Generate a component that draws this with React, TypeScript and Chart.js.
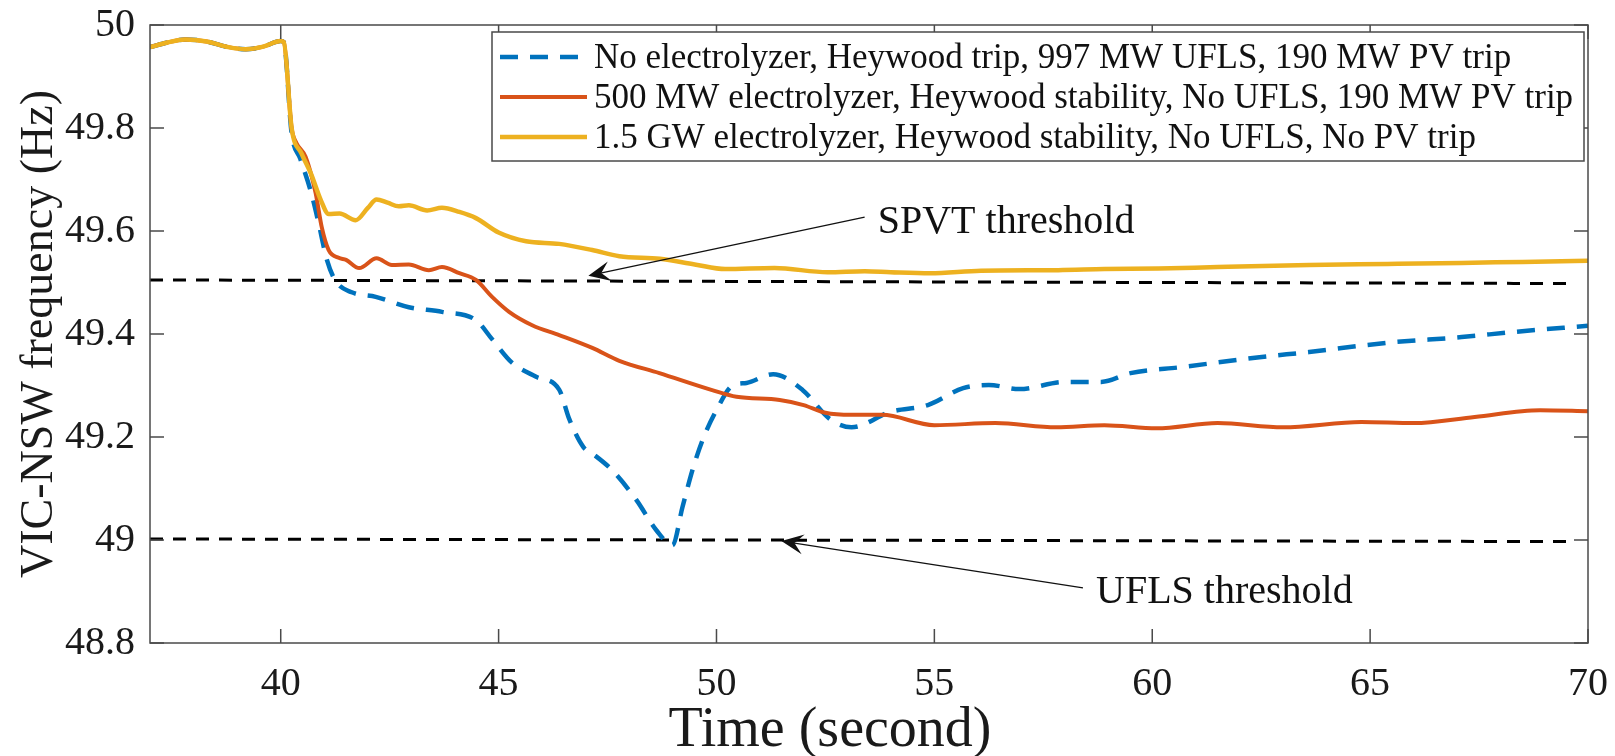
import React, { useEffect, useRef } from 'react';
import { Chart, registerables } from 'chart.js';

Chart.register(...registerables);

// ---------- data ----------
const preTime = [37, 37.4, 37.8, 38.3, 38.8, 39.2, 39.6, 40.0];
const preFreq = [49.957, 49.966, 49.972, 49.968, 49.957, 49.953, 49.958, 49.969];

const blueTime = [40.07, 40.25, 40.45, 40.7, 40.87, 41.06, 41.26, 41.63, 42.18, 42.94, 43.7, 44.48, 44.85, 45.3, 45.86, 46.39, 46.62, 46.95, 47.15, 47.6, 48.16, 48.62, 48.99, 49.22, 49.45, 49.68, 50.0, 50.37, 50.69, 51.3, 51.98, 52.6, 53.1, 54.0, 54.85, 55.66, 56.25, 56.95, 58.0, 58.83, 59.5, 60.7, 62.46, 63.6, 65.4, 67.1, 68.3, 70];
const blueFreq = [49.967, 49.79, 49.74, 49.674, 49.615, 49.544, 49.503, 49.481, 49.472, 49.452, 49.443, 49.427, 49.39, 49.345, 49.317, 49.292, 49.235, 49.18, 49.168, 49.136, 49.078, 49.019, 48.99, 49.064, 49.136, 49.194, 49.252, 49.3, 49.305, 49.322, 49.291, 49.235, 49.219, 49.249, 49.262, 49.295, 49.301, 49.293, 49.307, 49.307, 49.324, 49.336, 49.355, 49.365, 49.383, 49.394, 49.404, 49.416];

const orangeTime = [40.07, 40.25, 40.36, 40.57, 40.8, 40.94, 41.1, 41.33, 41.5, 41.8, 42.2, 42.55, 42.94, 43.4, 43.7, 44.1, 44.48, 44.85, 45.24, 45.77, 46.39, 47.15, 47.77, 48.69, 49.9, 50.46, 51.45, 52.0, 52.5, 53.1, 53.8, 55.0, 56.4, 57.8, 58.9, 60.1, 61.5, 63.0, 64.8, 66.0, 67.4, 68.9, 70];
const orangeFreq = [49.967, 49.8, 49.771, 49.744, 49.674, 49.608, 49.563, 49.548, 49.544, 49.528, 49.547, 49.534, 49.535, 49.524, 49.53, 49.518, 49.505, 49.472, 49.443, 49.417, 49.398, 49.373, 49.348, 49.324, 49.291, 49.278, 49.272, 49.262, 49.247, 49.243, 49.243, 49.223, 49.227, 49.219, 49.223, 49.217, 49.227, 49.219, 49.229, 49.227, 49.239, 49.252, 49.25];

const yellowTime = [40.07, 40.25, 40.48, 40.7, 40.92, 41.1, 41.35, 41.72, 42.0, 42.2, 42.45, 42.71, 42.94, 43.36, 43.7, 44.1, 44.48, 45.0, 45.63, 46.39, 47.15, 47.77, 48.7, 49.5, 50.2, 51.33, 52.55, 53.4, 54.0, 54.9, 56.07, 57.84, 58.9, 60.14, 61.5, 63.6, 65.4, 67.1, 68.5, 70];
const yellowFreq = [49.967, 49.8, 49.75, 49.71, 49.66, 49.633, 49.634, 49.621, 49.645, 49.661, 49.655, 49.648, 49.65, 49.64, 49.645, 49.637, 49.625, 49.597, 49.58, 49.575, 49.563, 49.551, 49.546, 49.535, 49.526, 49.528, 49.52, 49.522, 49.52, 49.518, 49.523, 49.524, 49.526, 49.527, 49.53, 49.534, 49.536, 49.538, 49.54, 49.542];

const spvtTime = [37, 69.6];
const spvtFreq = [49.505, 49.498];
const uflsTime = [37, 69.5];
const uflsFreq = [49.002, 48.997];

const seriesLabels = [
  'No electrolyzer, Heywood trip, 997 MW UFLS, 190 MW PV trip',
  '500 MW electrolyzer, Heywood stability, No UFLS, 190 MW PV trip',
  '1.5 GW electrolyzer, Heywood stability, No UFLS, No PV trip',
];
const seriesColors = ['#0072BD', '#D95319', '#EDB120'];

const xTicks = [40, 45, 50, 55, 60, 65, 70];
const yTicks = [48.8, 49, 49.2, 49.4, 49.6, 49.8, 50];

const xTitle = 'Time (second)';
const yTitle = 'VIC-NSW frequency (Hz)';

const annotTexts = ['SPVT threshold', 'UFLS threshold'];
const annotTextTime = [53.7, 58.71];
const annotTextFreq = [49.596, 48.878];
const arrowTailTime = [53.4, 58.41];
const arrowTailFreq = [49.627, 48.907];
const arrowTipTime = [47.06, 51.49];
const arrowTipFreq = [49.513, 48.998];

const FONT = '"Liberation Serif", "Times New Roman", serif';

const toPts = (t: number[], f: number[]) => t.map((v, i) => ({ x: v, y: f[i] }));

const framePlugin = {
  id: 'frame',
  afterDatasetsDraw(chart: any) {
    const { ctx, chartArea: a, scales } = chart;
    ctx.save();
    ctx.strokeStyle = '#4a4a4a';
    ctx.lineWidth = 1.5;
    ctx.strokeRect(a.left, a.top, a.right - a.left, a.bottom - a.top);
    const tl = 14;
    ctx.beginPath();
    xTicks.forEach((v) => {
      const px = scales.x.getPixelForValue(v);
      ctx.moveTo(px, a.bottom);
      ctx.lineTo(px, a.bottom - tl);
      ctx.moveTo(px, a.top);
      ctx.lineTo(px, a.top + tl);
    });
    yTicks.forEach((v) => {
      const py = scales.y.getPixelForValue(v);
      ctx.moveTo(a.left, py);
      ctx.lineTo(a.left + tl, py);
      ctx.moveTo(a.right, py);
      ctx.lineTo(a.right - tl, py);
    });
    ctx.stroke();

    // annotations
    ctx.fillStyle = '#111';
    ctx.strokeStyle = '#111';
    ctx.font = `40px ${FONT}`;
    ctx.textBaseline = 'alphabetic';
    ctx.textAlign = 'left';
    annotTexts.forEach((txt, i) => {
      const tx = scales.x.getPixelForValue(annotTextTime[i]);
      const ty = scales.y.getPixelForValue(annotTextFreq[i]);
      ctx.fillText(txt, tx, ty);
      const x0 = scales.x.getPixelForValue(arrowTailTime[i]);
      const y0 = scales.y.getPixelForValue(arrowTailFreq[i]);
      const x1 = scales.x.getPixelForValue(arrowTipTime[i]);
      const y1 = scales.y.getPixelForValue(arrowTipFreq[i]);
      const ang = Math.atan2(y1 - y0, x1 - x0);
      ctx.lineWidth = 1.3;
      ctx.beginPath();
      ctx.moveTo(x0, y0);
      ctx.lineTo(x1 - Math.cos(ang) * 10, y1 - Math.sin(ang) * 10);
      ctx.stroke();
      const L = 22, W = 10;
      const bx = x1 - Math.cos(ang) * L, by = y1 - Math.sin(ang) * L;
      const nx = -Math.sin(ang), ny = Math.cos(ang);
      const mx = x1 - Math.cos(ang) * L * 0.6, my = y1 - Math.sin(ang) * L * 0.6;
      ctx.beginPath();
      ctx.moveTo(x1, y1);
      ctx.lineTo(bx + nx * W, by + ny * W);
      ctx.lineTo(mx, my);
      ctx.lineTo(bx - nx * W, by - ny * W);
      ctx.closePath();
      ctx.fill();
    });
    ctx.restore();
  },
  afterDraw(chart: any) {
    const { ctx, chartArea: a } = chart;
    ctx.save();
    // axis titles
    ctx.fillStyle = '#1a1a1a';
    ctx.font = `56px ${FONT}`;
    ctx.textAlign = 'center';
    ctx.textBaseline = 'alphabetic';
    ctx.fillText(xTitle, (a.left + a.right) / 2 - 39, 746);
    ctx.save();
    ctx.translate(52, (a.top + a.bottom) / 2);
    ctx.rotate(-Math.PI / 2);
    ctx.font = `46px ${FONT}`;
    ctx.fillText(yTitle, 0, 0);
    ctx.restore();

    // legend box
    const right = a.right - 4;
    const left = right - 1092;
    const top = a.top + 7;
    const h = 129;
    ctx.fillStyle = '#fff';
    ctx.fillRect(left, top, right - left, h);
    ctx.strokeStyle = '#4a4a4a';
    ctx.lineWidth = 1.5;
    ctx.strokeRect(left, top, right - left, h);
    ctx.font = `35px ${FONT}`;
    ctx.textBaseline = 'middle';
    ctx.textAlign = 'left';
    for (let i = 0; i < 3; i++) {
      const ds = chart.data.datasets[i];
      const cy = top + 25 + i * 40;
      ctx.strokeStyle = ds.borderColor;
      ctx.lineWidth = ds.borderWidth;
      ctx.setLineDash(ds.borderDash || []);
      ctx.beginPath();
      ctx.moveTo(left + 8, cy);
      ctx.lineTo(left + 95, cy);
      ctx.stroke();
      ctx.setLineDash([]);
      ctx.fillStyle = '#111';
      ctx.fillText(ds.label, left + 102, cy + 2);
    }
    ctx.restore();
  },
};

const bgPlugin = {
  id: 'bg',
  beforeDraw(chart: any) {
    const { ctx, width, height } = chart;
    ctx.save();
    ctx.fillStyle = '#fff';
    ctx.fillRect(0, 0, width, height);
    ctx.restore();
  },
};

export default function App() {
  const ref = useRef<HTMLCanvasElement | null>(null);
  useEffect(() => {
    if (!ref.current) return;
    const lineBase = {
      pointRadius: 0,
      fill: false,
      cubicInterpolationMode: 'monotone' as const,
    };
    const chart = new Chart(ref.current, {
      type: 'line',
      data: {
        datasets: [
          {
            ...lineBase,
            label: seriesLabels[0],
            data: toPts([...preTime, ...blueTime], [...preFreq, ...blueFreq]),
            borderColor: seriesColors[0],
            borderWidth: 4.5,
            borderDash: [18, 12],
            order: 2,
          },
          {
            ...lineBase,
            label: seriesLabels[1],
            data: toPts([...preTime, ...orangeTime], [...preFreq, ...orangeFreq]),
            borderColor: seriesColors[1],
            borderWidth: 4,
            order: 1,
          },
          {
            ...lineBase,
            label: seriesLabels[2],
            data: toPts([...preTime, ...yellowTime], [...preFreq, ...yellowFreq]),
            borderColor: seriesColors[2],
            borderWidth: 4.5,
            order: 0,
          },
          {
            ...lineBase,
            label: 'SPVT',
            data: toPts(spvtTime, spvtFreq),
            borderColor: '#000',
            borderWidth: 3,
            borderDash: [13, 10],
            order: 3,
          },
          {
            ...lineBase,
            label: 'UFLS',
            data: toPts(uflsTime, uflsFreq),
            borderColor: '#000',
            borderWidth: 3,
            borderDash: [13, 10],
            order: 3,
          },
        ],
      },
      options: {
        animation: false,
        responsive: false,
        maintainAspectRatio: false,
        layout: { padding: { top: 25, right: 27, left: 0, bottom: 0 } },
        plugins: { legend: { display: false }, tooltip: { enabled: false } },
        scales: {
          x: {
            type: 'linear',
            min: 37,
            max: 70,
            border: { display: false },
            grid: { display: false, drawTicks: false },
            afterBuildTicks: (s: any) => {
              s.ticks = xTicks.map((v) => ({ value: v }));
            },
            afterFit: (s: any) => {
              s.height = 113;
              s.paddingLeft = 0;
              s.paddingRight = 0;
            },
            ticks: {
              color: '#1a1a1a',
              font: { family: FONT, size: 40 },
              padding: 17,
              maxRotation: 0,
              callback: (v: any) => String(v),
            },
            title: { display: false },
          },
          y: {
            type: 'linear',
            min: 48.8,
            max: 50,
            border: { display: false },
            grid: { display: false, drawTicks: false },
            afterBuildTicks: (s: any) => {
              s.ticks = yTicks.map((v) => ({ value: v }));
            },
            afterFit: (s: any) => {
              s.width = 150;
              s.paddingTop = 0;
              s.paddingBottom = 0;
            },
            ticks: {
              color: '#1a1a1a',
              font: { family: FONT, size: 40 },
              padding: 15,
              callback: (v: any) => String(Number(Number(v).toFixed(1))),
            },
            title: { display: false },
          },
        },
      },
      plugins: [bgPlugin, framePlugin],
    } as any);
    return () => chart.destroy();
  }, []);
  return (
    <div style={{ position: 'absolute', left: 0, top: 0, width: 1615, height: 756 }}>
      <canvas ref={ref} width={1615} height={756} style={{ width: 1615, height: 756 }} />
    </div>
  );
}
